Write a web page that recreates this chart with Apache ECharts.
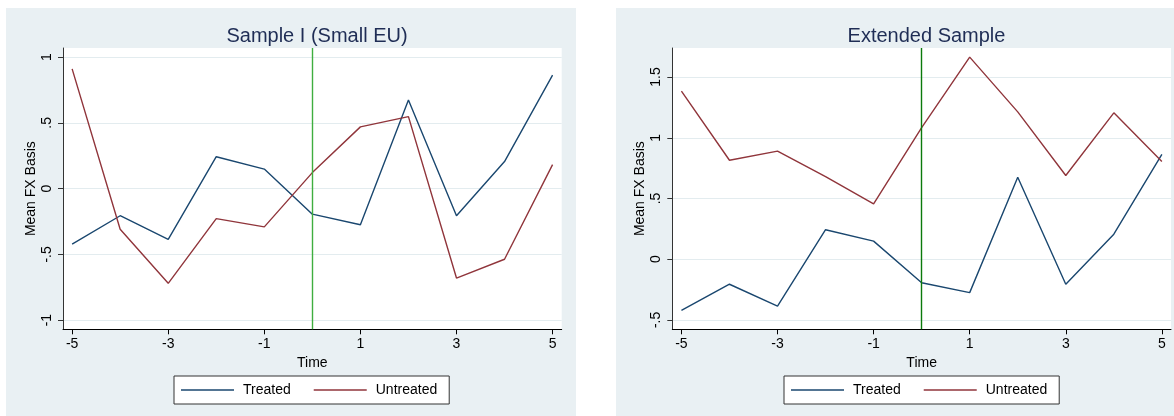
<!DOCTYPE html>
<html>
<head>
<meta charset="utf-8">
<script src="https://cdn.jsdelivr.net/npm/echarts@6/dist/echarts.min.js"></script>
<style>
  html, body { margin: 0; padding: 0; background: #ffffff; }
  #chart { width: 1174px; height: 416px; }
</style>
</head>
<body>
<div id="chart"></div>
<script>
// Event time relative to treatment
const timeValues = [-5, -4, -3, -2, -1, 0, 1, 2, 3, 4, 5];

// Mean FX basis, treated group (same in both samples)
const treated = [-0.422, -0.206, -0.386, 0.243, 0.149, -0.194, -0.275, 0.675, -0.206, 0.206, 0.864];
// Mean FX basis, untreated group
const untreatedSmall = [0.911, -0.309, -0.720, -0.228, -0.291, 0.122, 0.470, 0.548, -0.680, -0.537, 0.183];
const untreatedExtended = [1.384, 0.815, 0.890, 0.680, 0.455, 1.084, 1.664, 1.213, 0.689, 1.205, 0.804];

// Panel titles and series names
const panelTitles = ['Sample I (Small EU)', 'Extended Sample'];
const seriesNames = ['Treated', 'Untreated'];

// Tick positions and labels
const xTicks = [-5, -3, -1, 1, 3, 5];
const xTickLabels = ['-5', '-3', '-1', '1', '3', '5'];
const yTicksSmall = [-1, -0.5, 0, 0.5, 1];
const yTickLabelsSmall = ['-1', '-.5', '0', '.5', '1'];
const yTicksExtended = [-0.5, 0, 0.5, 1, 1.5];
const yTickLabelsExtended = ['-.5', '0', '.5', '1', '1.5'];

const FONT = "'Liberation Sans', Arial, Helvetica, sans-serif";
const NAVY = '#1a476f';
const MAROON = '#90353b';
const PANEL_BG = '#e9f0f3';
const GRID_LINE = '#e3ecef';

const pairs = ys => timeValues.map((t, i) => [t, ys[i]]);
const labelFrom = (ticks, labels) => v => {
  const i = ticks.findIndex(t => Math.abs(t - v) < 1e-9);
  return i >= 0 ? labels[i] : '';
};

function xAxisFor(gridIndex) {
  return {
    type: 'value', gridIndex, min: -5.19, max: 5.19,
    name: 'Time', nameLocation: 'middle', nameGap: 23,
    nameTextStyle: { fontFamily: FONT, fontSize: 14, color: '#000' },
    axisLine: { show: true, onZero: false, lineStyle: { color: '#000', width: 1 } },
    axisTick: { show: true, length: 5, customValues: xTicks, lineStyle: { color: '#000' } },
    axisLabel: { customValues: xTicks, formatter: labelFrom(xTicks, xTickLabels),
      margin: 8, fontFamily: FONT, fontSize: 14, color: '#000' },
    splitLine: { show: false }
  };
}

function yAxisFor(gridIndex, min, max, ticks, labels) {
  return {
    type: 'value', gridIndex, min, max,
    name: 'Mean FX Basis', nameLocation: 'middle', nameGap: 25, nameRotate: 90,
    nameTextStyle: { fontFamily: FONT, fontSize: 14, color: '#000' },
    axisLine: { show: true, onZero: false, lineStyle: { color: '#333', width: 1 } },
    axisTick: { show: true, length: 5, customValues: ticks, lineStyle: { color: '#333' } },
    axisLabel: { customValues: ticks, formatter: labelFrom(ticks, labels), rotate: 90,
      margin: 9, fontFamily: FONT, fontSize: 14, color: '#000' },
    splitLine: { show: true, lineStyle: { color: GRID_LINE, width: 1 } }
  };
}

function lineSeries(name, data, axisIndex, color, treatLineColor) {
  const s = {
    name, type: 'line', xAxisIndex: axisIndex, yAxisIndex: axisIndex,
    data: pairs(data), symbol: 'none', animation: false,
    lineStyle: { color, width: 1.4 }, itemStyle: { color }
  };
  if (treatLineColor) {
    s.markLine = {
      silent: true, symbol: 'none', animation: false,
      label: { show: false },
      lineStyle: { color: treatLineColor, width: 1.4, type: 'solid' },
      data: [{ xAxis: 0 }]
    };
  }
  return s;
}

function legendAt(left) {
  return {
    left, top: 376, orient: 'horizontal',
    data: seriesNames,
    icon: 'rect', itemWidth: 53, itemHeight: 1.5, itemGap: 23,
    padding: [6, 12, 6, 7],
    borderColor: '#333', borderWidth: 1, backgroundColor: '#ffffff',
    textStyle: { fontFamily: FONT, fontSize: 14, color: '#000', lineHeight: 16, padding: [0, 0, 0, 4] },
    selectedMode: false
  };
}

const chart = echarts.init(document.getElementById('chart'), null, { renderer: 'canvas' });
chart.setOption({
  backgroundColor: '#ffffff',
  animation: false,
  graphic: [
    { type: 'rect', z: -10, shape: { x: 6, y: 8, width: 570, height: 410 }, style: { fill: PANEL_BG } },
    { type: 'rect', z: -10, shape: { x: 616, y: 8, width: 560, height: 410 }, style: { fill: PANEL_BG } }
  ],
  title: [
    { text: panelTitles[0], left: 312, top: 21, textAlign: 'center',
      textStyle: { fontFamily: FONT, fontSize: 20, fontWeight: 'normal', color: '#1f2d55' } },
    { text: panelTitles[1], left: 921.5, top: 21, textAlign: 'center',
      textStyle: { fontFamily: FONT, fontSize: 20, fontWeight: 'normal', color: '#1f2d55' } }
  ],
  legend: [legendAt(174), legendAt(784)],
  grid: [
    { left: 63, top: 48, width: 498.7, height: 281.3, show: true, backgroundColor: '#ffffff', borderWidth: 0 },
    { left: 672.3, top: 48, width: 498.7, height: 281.3, show: true, backgroundColor: '#ffffff', borderWidth: 0 }
  ],
  xAxis: [xAxisFor(0), xAxisFor(1)],
  yAxis: [
    yAxisFor(0, -1.07, 1.07, yTicksSmall, yTickLabelsSmall),
    yAxisFor(1, -0.577, 1.739, yTicksExtended, yTickLabelsExtended)
  ],
  series: [
    lineSeries(seriesNames[0], treated, 0, NAVY, '#3fae3f'),
    lineSeries(seriesNames[1], untreatedSmall, 0, MAROON),
    lineSeries(seriesNames[0], treated, 1, NAVY, '#0b7a0b'),
    lineSeries(seriesNames[1], untreatedExtended, 1, MAROON)
  ]
});
</script>
</body>
</html>
